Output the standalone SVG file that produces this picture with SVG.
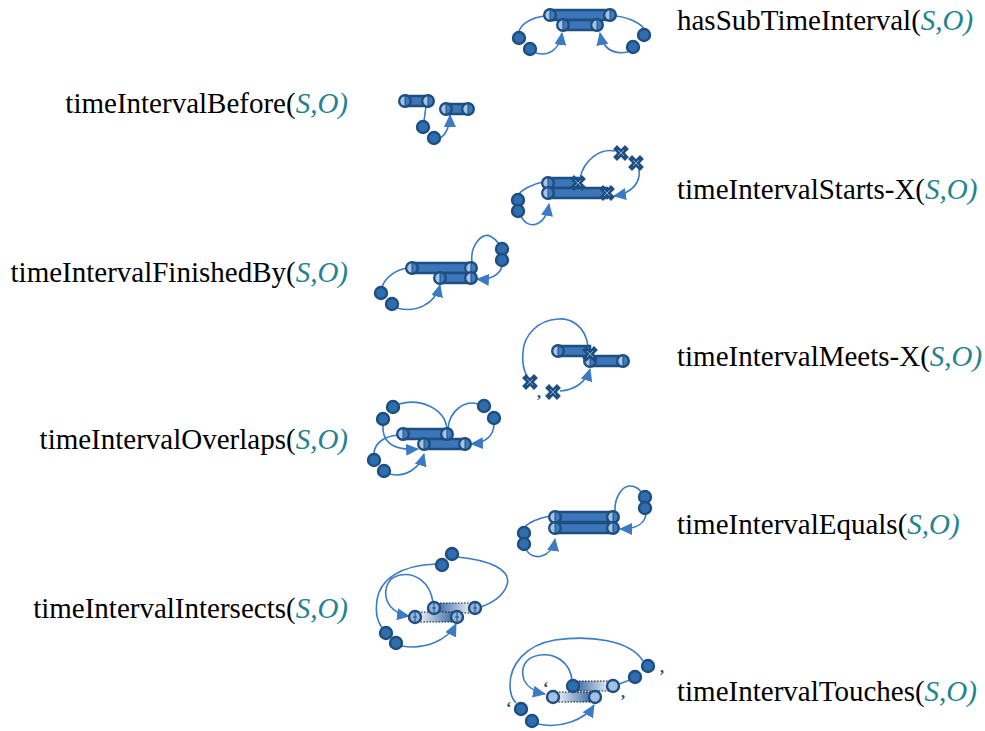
<svg xmlns="http://www.w3.org/2000/svg" xmlns:xlink="http://www.w3.org/1999/xlink" width="985" height="731" viewBox="0 0 985 731">
<style>
.lb{font-family:"Liberation Serif","Times New Roman",serif;font-size:29px;fill:#000}
.so{font-style:italic;fill:#23838f}
.lk{fill:none;stroke:#3b7bc4;stroke-width:1.6}
.ar{marker-end:url(#ah)}
.bar{fill:#3b76bb;stroke:#1e4e7e;stroke-width:2.5}
.gb{stroke:#111;stroke-width:1;stroke-dasharray:1.5,1.5}
.cm{font-family:"Liberation Serif",serif;font-size:16px;font-weight:bold;fill:#1e4e7e}
</style>
<defs>
<marker id="ah" viewBox="0 0 13 12" refX="12" refY="6" markerWidth="13" markerHeight="12" markerUnits="userSpaceOnUse" orient="auto"><path d="M0,0 L13,6 L0,12 z" fill="#3b7bc4"/></marker>
<g id="cap"><circle r="5.8" fill="#3f7cc0" stroke="#1d4e7e" stroke-width="2.4"/><path d="M0,-4.6 A4.6,4.6 0 0 0 0,4.6 z" fill="#a8c3e5"/><line x1="0" y1="-5" x2="0" y2="5" stroke="#1d4e7e" stroke-width="1"/></g>
<circle id="pt" r="6" fill="#2f6db1" stroke="#1d4e7e" stroke-width="2.4"/>
<g id="xm"><path d="M-4,-4 L4,4 M4,-4 L-4,4" stroke="#1f4f80" stroke-width="5.5" stroke-linecap="square"/><path d="M-3,-3 L3,3 M3,-3 L-3,3" stroke="#7fa6d6" stroke-width="1"/></g>
<g id="capL"><circle r="6" fill="#93b3dc" stroke="#1d4e7e" stroke-width="2.4"/><line x1="0" y1="-5" x2="0" y2="5" stroke="#1d4e7e" stroke-width="1"/><line x1="-2" y1="0" x2="2" y2="0" stroke="#1d4e7e" stroke-width="1"/></g>
<circle id="capW" r="6" fill="#a3bfe3" stroke="#1d4e7e" stroke-width="2.4"/>
<linearGradient id="gR" x1="0" y1="0" x2="1" y2="0"><stop offset="0" stop-color="#2c5ea0"/><stop offset="1" stop-color="#ffffff"/></linearGradient>
<linearGradient id="gL" x1="0" y1="0" x2="1" y2="0"><stop offset="0" stop-color="#ffffff"/><stop offset="1" stop-color="#2c5ea0"/></linearGradient>
</defs>

<g id="labels">
<text class="lb" x="677" y="30">hasSubTimeInterval(<tspan class="so">S,O)</tspan></text>
<text class="lb" x="348" y="113" text-anchor="end">timeIntervalBefore(<tspan class="so">S,O)</tspan></text>
<text class="lb" x="677" y="199">timeIntervalStarts-X(<tspan class="so">S,O)</tspan></text>
<text class="lb" x="348" y="282" text-anchor="end">timeIntervalFinishedBy(<tspan class="so">S,O)</tspan></text>
<text class="lb" x="677" y="366">timeIntervalMeets-X(<tspan class="so">S,O)</tspan></text>
<text class="lb" x="348" y="449" text-anchor="end">timeIntervalOverlaps(<tspan class="so">S,O)</tspan></text>
<text class="lb" x="677" y="534">timeIntervalEquals(<tspan class="so">S,O)</tspan></text>
<text class="lb" x="348" y="618" text-anchor="end">timeIntervalIntersects(<tspan class="so">S,O)</tspan></text>
<text class="lb" x="677" y="701">timeIntervalTouches(<tspan class="so">S,O)</tspan></text>
</g>

<g id="connectors">
<path class="lk" d="M544,16 C530,18 520,25 519,32"/>
<path class="lk ar" d="M536,53 C550,57 560,48 562,33"/>
<path class="lk" d="M616,16 C632,18 642,25 644,29"/>
<path class="lk ar" d="M628,52 C612,55 603,48 600,33"/>
<path class="lk" d="M426,106 L424,121"/>
<path class="lk ar" d="M440,138 C447,134 450,124 450,115"/>
<path class="lk" d="M543,182 C532,184 522,190 519,194"/>
<path class="lk ar" d="M521,216 C527,230 545,228 549,204"/>
<path class="lk" d="M580,178 C584,160 600,148 615,151"/>
<path class="lk ar" d="M639,169 C641,183 632,193 614,196"/>
<path class="lk" d="M407,268 C395,270 385,278 382,287"/>
<path class="lk ar" d="M397,308 C415,313 435,305 440,285"/>
<path class="lk" d="M472,262 C470,245 482,233 490,236 C494,238 497,241 499,244"/>
<path class="lk ar" d="M502,266 C500,275 490,280 477,279"/>
<path class="lk" d="M588,346 C585,325 570,318 558,319 C538,320 524,335 523,352 C522,362 524,371 527,376"/>
<path class="lk ar" d="M560,391 C575,390 586,382 590,369"/>
<path class="lk" d="M399,404 C420,398 444,408 447,428"/>
<path class="lk" d="M448,428 C450,410 465,400 478,404"/>
<path class="lk ar" d="M383,425 C382,440 390,451 418,449"/>
<path class="lk" d="M398,435 C385,436 374,443 374,454"/>
<path class="lk ar" d="M390,474 C405,478 420,468 424,454"/>
<path class="lk ar" d="M494,424 C494,436 485,443 471,444"/>
<path class="lk" d="M550,516 C538,518 528,523 525,527"/>
<path class="lk ar" d="M526,549 C532,562 552,558 555,539"/>
<path class="lk" d="M615,512 C614,498 622,486 630,486 C636,486 640,490 641,492"/>
<path class="lk ar" d="M646,514 C645,524 635,529 620,529"/>
<path class="lk" d="M457,557 C490,560 512,570 507,585 C503,597 490,604 481,607"/>
<path class="lk" d="M436,564 C400,565 380,580 377,600 C375,615 378,622 382,628"/>
<path class="lk ar" d="M433,602 C430,582 415,572 400,575 C385,578 382,595 390,606 C395,612 402,615 409,616"/>
<path class="lk ar" d="M402,646 C425,650 448,640 456,624"/>
<path class="lk" d="M643,661 C630,640 590,635 555,640 C525,645 510,665 510,685 C510,695 513,700 516,703"/>
<path class="lk ar" d="M572,680 C570,662 555,653 540,655 C525,657 520,668 524,680 C528,688 535,692 545,694"/>
<path class="lk" d="M619,684 L630,680"/>
<path class="lk ar" d="M538,724 C560,729 585,720 594,705"/>
</g>

<g id="hasSubTimeInterval">
<rect class="bar" x="550" y="10" width="60" height="10"/>
<rect class="bar" x="563" y="20" width="34" height="10"/>
<use href="#cap" x="550" y="15"/><use href="#cap" x="610" y="15"/>
<use href="#cap" x="563" y="25"/><use href="#cap" x="597" y="25"/>
<use href="#pt" x="519" y="38"/><use href="#pt" x="530" y="49"/>
<use href="#pt" x="644" y="35"/><use href="#pt" x="633" y="47"/>
</g>

<g id="timeIntervalBefore">
<rect class="bar" x="405" y="96" width="23" height="10"/>
<rect class="bar" x="446" y="104" width="22" height="10"/>
<use href="#cap" x="405" y="101"/><use href="#cap" x="428" y="101"/>
<use href="#cap" x="446" y="109"/><use href="#cap" x="468" y="109"/>
<use href="#pt" x="423" y="127"/><use href="#pt" x="434" y="138"/>
</g>

<g id="timeIntervalStarts">
<rect class="bar" x="548" y="178" width="30" height="10"/>
<rect class="bar" x="548" y="188" width="59" height="10"/>
<use href="#cap" x="548" y="183"/><use href="#cap" x="548" y="193"/>
<use href="#xm" x="578" y="183"/><use href="#xm" x="607" y="193"/>
<use href="#xm" x="621" y="153"/><use href="#xm" x="636" y="163"/>
<use href="#pt" x="518" y="200"/><use href="#pt" x="518" y="211"/>
</g>

<g id="timeIntervalFinishedBy">
<rect class="bar" x="412" y="263" width="59" height="10"/>
<rect class="bar" x="440" y="273" width="31" height="10"/>
<use href="#cap" x="412" y="268"/><use href="#cap" x="471" y="268"/>
<use href="#cap" x="440" y="278"/><use href="#cap" x="471" y="278"/>
<use href="#pt" x="381" y="293"/><use href="#pt" x="392" y="304"/>
<use href="#pt" x="502" y="249"/><use href="#pt" x="502" y="260"/>
</g>

<g id="timeIntervalMeets">
<rect class="bar" x="558" y="346" width="32" height="10"/>
<rect class="bar" x="590" y="356" width="33" height="10"/>
<use href="#cap" x="558" y="351"/>
<use href="#cap" x="590" y="361"/><use href="#cap" x="623" y="361"/>
<use href="#xm" x="590" y="354"/>
<use href="#xm" x="530" y="382"/><use href="#xm" x="553" y="392"/>
<text class="cm" x="537" y="398">,</text>
</g>

<g id="timeIntervalOverlaps">
<rect class="bar" x="403" y="429" width="44" height="10"/>
<rect class="bar" x="424" y="439" width="41" height="10"/>
<use href="#cap" x="403" y="434"/><use href="#cap" x="447" y="434"/>
<use href="#cap" x="424" y="444"/><use href="#cap" x="465" y="444"/>
<use href="#pt" x="393" y="407"/><use href="#pt" x="383" y="419"/>
<use href="#pt" x="484" y="406"/><use href="#pt" x="494" y="418"/>
<use href="#pt" x="374" y="460"/><use href="#pt" x="384" y="471"/>
</g>

<g id="timeIntervalEquals">
<rect class="bar" x="555" y="512" width="58" height="10"/>
<rect class="bar" x="555" y="523" width="58" height="10"/>
<use href="#cap" x="555" y="517"/><use href="#cap" x="613" y="517"/>
<use href="#cap" x="555" y="528"/><use href="#cap" x="613" y="528"/>
<use href="#pt" x="524" y="533"/><use href="#pt" x="524" y="544"/>
<use href="#pt" x="645" y="497"/><use href="#pt" x="645" y="508"/>
</g>

<g id="timeIntervalIntersects">
<rect class="gb" x="434" y="603" width="41" height="10" fill="url(#gR)"/>
<rect class="gb" x="415" y="612" width="42" height="10" fill="url(#gL)"/>
<use href="#capL" x="434" y="608"/><use href="#capL" x="475" y="608"/>
<use href="#capL" x="415" y="617"/><use href="#capL" x="457" y="617"/>
<use href="#pt" x="452" y="554"/><use href="#pt" x="442" y="565"/>
<use href="#pt" x="386" y="633"/><use href="#pt" x="396" y="643"/>
</g>

<g id="timeIntervalTouches">
<rect class="gb" x="573" y="681" width="40" height="10" fill="url(#gR)"/>
<rect class="gb" x="553" y="692" width="42" height="10" fill="url(#gL)"/>
<use href="#pt" x="573" y="686"/><use href="#capW" x="613" y="686"/>
<use href="#capW" x="553" y="697"/><use href="#capW" x="595" y="697"/>
<use href="#pt" x="648" y="666"/><use href="#pt" x="635" y="677"/>
<use href="#pt" x="521" y="709"/><use href="#pt" x="532" y="721"/>
<text class="cm" x="660" y="673">,</text>
<text class="cm" x="621" y="698">,</text>
<text class="cm" x="543" y="693">‘</text>
<text class="cm" x="506" y="713">‘</text>
</g>
</svg>
